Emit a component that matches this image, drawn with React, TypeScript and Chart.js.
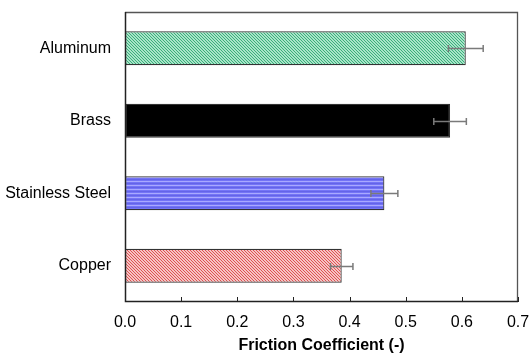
import React, { useEffect, useRef } from "react";
import { Chart, registerables } from "chart.js";

Chart.register(...registerables);

const categories = ["Aluminum", "Brass", "Stainless Steel", "Copper"];
const frictionValues = [0.607, 0.579, 0.462, 0.386];
const errorValues = [0.031, 0.029, 0.024, 0.02];
const xTicks = [0, 0.1, 0.2, 0.3, 0.4, 0.5, 0.6, 0.7];

function diagPattern(dark: string, light: string): CanvasPattern | string {
  const c = document.createElement("canvas");
  c.width = 3;
  c.height = 3;
  const ctx = c.getContext("2d");
  if (!ctx) return dark;
  ctx.fillStyle = light;
  ctx.fillRect(0, 0, 3, 3);
  ctx.fillStyle = dark;
  for (let i = 0; i < 3; i++) {
    ctx.fillRect(i, i, 1, 1);
  }
  const p = ctx.createPattern(c, "repeat");
  return p || dark;
}

function stripePattern(): CanvasPattern | string {
  const c = document.createElement("canvas");
  c.width = 4;
  c.height = 4;
  const ctx = c.getContext("2d");
  if (!ctx) return "#7878ff";
  ctx.fillStyle = "#7474f6";
  ctx.fillRect(0, 0, 4, 4);
  ctx.fillStyle = "#a9a9ff";
  ctx.fillRect(0, 1, 4, 1);
  ctx.fillStyle = "#6464e8";
  ctx.fillRect(0, 3, 4, 1);
  const p = ctx.createPattern(c, "repeat");
  return p || "#7878ff";
}

const frameAndTicks = {
  id: "frameAndTicks",
  afterDraw(chart: any) {
    const { ctx, chartArea } = chart;
    const { left, right, top, bottom } = chartArea;
    ctx.save();
    ctx.strokeStyle = "#555";
    ctx.lineWidth = 1.3;
    ctx.beginPath();
    ctx.moveTo(left, top + 0.5);
    ctx.lineTo(right - 0.5, top + 0.5);
    ctx.lineTo(right - 0.5, bottom);
    ctx.stroke();
    ctx.strokeStyle = "#222";
    ctx.lineWidth = 1.5;
    ctx.beginPath();
    ctx.moveTo(left + 0.5, top);
    ctx.lineTo(left + 0.5, bottom - 0.5);
    ctx.lineTo(right, bottom - 0.5);
    ctx.stroke();
    const xs = chart.scales.x;
    ctx.lineWidth = 1;
    ctx.strokeStyle = "#222";
    xTicks.forEach((t) => {
      const px = Math.round(xs.getPixelForValue(t)) + 0.5;
      ctx.beginPath();
      ctx.moveTo(px, bottom);
      ctx.lineTo(px, bottom - 5);
      ctx.stroke();
    });
    ctx.restore();
  },
};

const errorBars = {
  id: "errorBars",
  afterDatasetsDraw(chart: any) {
    const { ctx } = chart;
    const meta = chart.getDatasetMeta(0);
    const xs = chart.scales.x;
    ctx.save();
    ctx.strokeStyle = "#7a7a7a";
    ctx.lineWidth = 1.5;
    meta.data.forEach((bar: any, i: number) => {
      const v = frictionValues[i];
      const e = errorValues[i];
      const x1 = xs.getPixelForValue(v - e);
      const x2 = xs.getPixelForValue(v + e);
      const y = Math.round(bar.y) + 0.5;
      ctx.beginPath();
      ctx.moveTo(x1, y);
      ctx.lineTo(x2, y);
      ctx.moveTo(x1, y - 3.5);
      ctx.lineTo(x1, y + 3.5);
      ctx.moveTo(x2, y - 3.5);
      ctx.lineTo(x2, y + 3.5);
      ctx.stroke();
    });
    ctx.restore();
  },
};

export default function App() {
  const ref = useRef<HTMLCanvasElement>(null);

  useEffect(() => {
    if (!ref.current) return;
    const fills = [
      diagPattern("#3aae7a", "#a8e4c8"),
      "#000000",
      stripePattern(),
      diagPattern("#de5252", "#f6c4c4"),
    ];
    const chart = new Chart(ref.current, {
      type: "bar",
      data: {
        labels: categories,
        datasets: [
          {
            data: frictionValues,
            backgroundColor: fills as any,
            borderColor: "#333333",
            borderWidth: 1.2,
            borderSkipped: false,
            barPercentage: 0.47,
            categoryPercentage: 1,
          },
        ],
      },
      options: {
        indexAxis: "y",
        animation: false,
        responsive: false,
        maintainAspectRatio: false,
        layout: { padding: { top: 12, right: 11, left: 0, bottom: 0 } },
        plugins: { legend: { display: false }, tooltip: { enabled: false } },
        scales: {
          x: {
            min: 0,
            max: 0.7,
            afterBuildTicks: (scale: any) => {
              scale.ticks = xTicks.map((v) => ({ value: v }));
            },
            afterFit: (scale: any) => {
              scale.height = 53;
              scale.paddingLeft = 0;
              scale.paddingRight = 0;
              scale.paddingTop = 0;
              scale.paddingBottom = 0;
            },
            grid: { display: false, drawTicks: false },
            border: { display: false },
            ticks: {
              color: "#000",
              padding: 11,
              font: { family: "Liberation Sans, Arial", size: 16 },
              callback: (v: any) => Number(v).toFixed(1),
            },
            title: {
              display: true,
              text: "Friction Coefficient (-)",
              color: "#000",
              padding: { top: 1, bottom: 0 },
              font: { family: "Liberation Sans, Arial", size: 16, weight: "bold" },
            },
          },
          y: {
            afterFit: (scale: any) => {
              scale.width = 125;
              scale.paddingLeft = 0;
              scale.paddingRight = 0;
              scale.paddingTop = 0;
              scale.paddingBottom = 0;
            },
            grid: { display: false, drawTicks: false },
            border: { display: false },
            ticks: {
              color: "#000",
              padding: 14,
              font: { family: "Liberation Sans, Arial", size: 16 },
            },
          },
        },
      },
      plugins: [errorBars, frameAndTicks],
    });
    return () => chart.destroy();
  }, []);

  return (
    <div style={{ position: "fixed", left: 0, top: 0, width: 529, height: 355, background: "#fff" }}>
      <canvas ref={ref} width={529} height={355} style={{ width: 529, height: 355 }} />
    </div>
  );
}
